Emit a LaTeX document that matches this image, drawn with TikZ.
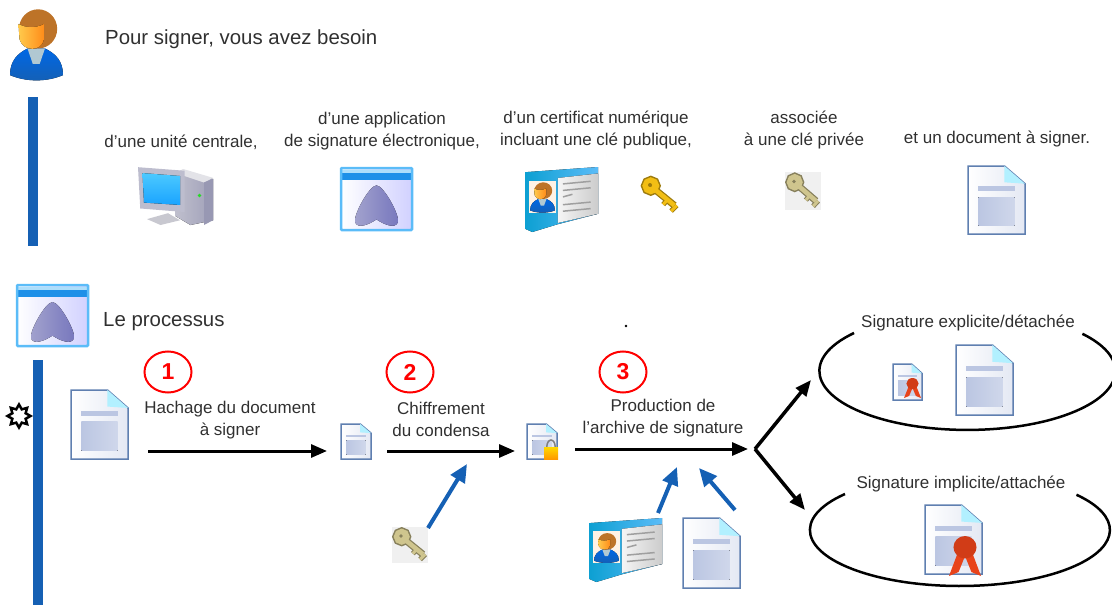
\documentclass[tikz,border=0pt]{standalone}
\usepackage{fontspec}
\setmainfont{Liberation Sans}
\usetikzlibrary{positioning, arrows.meta, shapes.geometric}
\definecolor{barblue}{HTML}{1560B4}
\definecolor{docline}{HTML}{5F7FB0}
\definecolor{docfill}{HTML}{BBC6E2}
\definecolor{appblue}{HTML}{5BBCF8}
\definecolor{apptop}{HTML}{1E90E8}
\definecolor{txtgrey}{HTML}{303030}
\definecolor{goldkey}{HTML}{F2BE14}
\definecolor{palekey}{HTML}{CFC58E}
\definecolor{sealred}{HTML}{E8431A}
\newcommand{\personshape}{
    \fill[top color=blue!55!cyan!90!black,bottom color=barblue](0,.93).. controls (0,.72) and (.15,.62) .. (.33,.55)--(.66,.55).. controls (.85,.62) and (1,.72) .. (1,.93).. controls (.7,1.03) and (.3,1.03) .. (0,.93)--cycle;
    \fill[cyan!30!gray!55](.33,.55)--(.66,.55)--(.56,.77)--(.43,.77)--cycle;
    \fill[HairCol](.53,.27)circle[x radius=.36,y radius=.28];
    \fill[left color=orange!60!yellow!70,right color=orange!90](.16,.2).. controls (.3,.26) and (.5,.26) .. (.64,.2)--(.64,.42).. controls (.6,.6) and (.25,.6) .. (.18,.42)--cycle;
}
\colorlet{HairCol}{brown!70!orange!90!black}
\tikzset{txt/.style={font=\fontsize{17}{22}\selectfont,text=txtgrey,align=center,inner sep=0pt},
         title/.style={font=\fontsize{20.4}{22}\selectfont,text=txtgrey,anchor=west,inner sep=0pt},
         bar/.style={fill=barblue,draw=none},
         step num/.style={draw=red,line width=2pt,ellipse,font=\bfseries\fontsize{23}{23}\selectfont,text=red,minimum width=47pt,minimum height=41pt,inner sep=0pt},
         flow/.style={-{Triangle[length=16pt,width=13pt]},line width=3pt},
         fork/.style={-{Triangle[length=16pt,width=13pt]},line width=3.5pt},
         feed/.style={-{Triangle[length=18pt,width=16pt]},line width=4pt,draw=barblue},
         sig/.style={line width=2.5pt},
         docicon/.pic={
            \draw[docline,line width=1.5pt,left color=white,right color=docfill!40](0,0)--(.64,0)--(1,.26)--(1,1)--(0,1)--cycle;
            \fill[fill=blue!20!cyan!30](.64,0)--(1,.26)--(.64,.24)--cycle;
            \fill[docfill](.18,.3)rectangle(.82,.37);
            \fill[left color=docfill,right color=docfill!70](.18,.46)rectangle(.82,.88);
         },
         sealicon/.pic={
            \fill[sealred](0,1)--(.33,.3)--(.67,.3)--(1,1)--(.7,.9)--(.5,.5)--(.3,.9)--cycle;
            \fill[sealred!90!black](.5,.28)circle[x radius=.36,y radius=.28];
         },
         lockicon/.pic={
            \draw[gray,line width=1.5pt](.2,.4)arc[start angle=180,end angle=0,x radius=.3pt,y radius=.35pt];
            \fill[top color=yellow!70!orange,bottom color=orange!80!yellow](0,.4)rectangle(1,1);
         },
         appicon/.pic={
            \fill[left color=white,right color=blue!18](0,0)rectangle(1,1);
            \fill[apptop](0,.05)rectangle(1,.2);
            \fill[appblue!50](0,.03)rectangle(1,.08);
            \draw[appblue,line width=2.5pt,rounded corners=1pt](0,0)rectangle(1,1);
            \fill[left color=blue!30!gray!55,right color=blue!35!gray!80](.5,.28).. controls (.6,.28) and (.84,.78) .. (.8,.88).. controls (.76,.98) and (.62,.92) .. (.5,.83).. controls (.38,.92) and (.24,.98) .. (.2,.88).. controls (.16,.78) and (.4,.28) .. (.5,.28)--cycle;
         },
         personicon/.pic={\personshape},
         keyicon/.pic={
            \draw[#1!65!black,line width=7pt](.32,.32)--(.86,.76);
            \draw[#1!65!black,line width=5pt](.58,.74)--(.7,.6)(.78,.9)--(.92,.76);
            \draw[#1!65!black,line width=10pt](.27,.27)circle[x radius=.12,y radius=.12];
            \draw[#1,line width=4.5pt](.32,.32)--(.86,.76);
            \draw[#1,line width=3pt](.58,.74)--(.7,.6)(.78,.9)--(.92,.76);
            \draw[#1,line width=7pt](.27,.27)circle[x radius=.12,y radius=.12];
            \fill[#1!65!black](.25,.25)circle[x radius=.05,y radius=.05];
         },
         cardicon/.pic={
            \fill[left color=barblue!60!cyan,right color=appblue](0,.08)--(1,0)--(1,.72)--(.45,.88)--(.1,1)--(0,.95)--cycle;
            \fill[left color=gray!8,right color=gray!40](.45,.17)--(1,.1)--(1,.72)--(.45,.86)--cycle;
            \fill[orange!10!white](.06,.21)rectangle(.42,.7);
            \begin{scope}[shift={(.07,.24)},xscale=.34,yscale=.46]\personshape\end{scope}
            \foreach \yy/\ww in {.26/.9,.36/.9,.46/.65,.58/.9,.68/.9}{\draw[gray!75,line width=1.5pt](.52,\yy)--(\ww,\yy-.04);}
         },
         pcicon/.pic={
            \fill[left color=blue!12!gray!45,right color=blue!15!gray!65](.5,.12)--(1,.22)--(1,.92)--(.7,1)--(.5,.85)--cycle;
            \fill[blue!10!gray!20](.5,.12)--(.6,.05)--(1,.2)--(.88,.28)--cycle;
            \fill[blue!15!gray!70](.88,.28)--(1,.22)--(1,.92)--(.88,1)--cycle;
            \fill[green!70!gray](.82,.5)circle[x radius=.025,y radius=.03];
            \fill[blue!8!gray!40](.12,.9)--(.4,.8)--(.56,.92)--(.3,1)--cycle;
            \fill[blue!15!gray!45](0,.02)--(.62,.08)--(.62,.78)--(.03,.72)--cycle;
            \fill[top color=cyan!70!blue!70,bottom color=cyan!60!blue!90](.06,.12)--(.56,.17)--(.56,.66)--(.08,.62)--cycle;
         },
        }

\begin{document}
\begin{tikzpicture}[x=1pt,y=-1pt]
        \useasboundingbox(0,0)rectangle(1112,605);
        \pic[xscale=53,yscale=70]at(10,10){personicon};
        \node[title](need)at(105,39){Pour signer, vous avez besoin};
        \fill[bar](28,97)rectangle(38,246);

        \node[txt](unit)at(181,142){d'une unité centrale,};
        \node[txt](app)at(382,131){d'une application\\de signature électronique,};
        \node[txt](cert)at(596,130){d'un certificat numérique\\incluant une clé publique,};
        \node[txt](priv)at(804,130){associée\\à une clé privée};
        \node[txt](todoc)at(997,139){et un document à signer.};
        \pic[xscale=75,yscale=59]at(138,166){pcicon};
        \pic[xscale=71,yscale=62]at(341,168){appicon};
        \pic[xscale=73,yscale=65]at(525,167){cardicon};
        \pic[xscale=40,yscale=40]at(640,175){keyicon=goldkey};
        \fill[gray!12](785,172)rectangle(821,210);
        \pic[xscale=36,yscale=38]at(785,172){keyicon=palekey};
        \pic[xscale=57,yscale=68]at(968,166){docicon};

        \pic[xscale=71,yscale=61]at(17,285){appicon};
        \node[title](proc)at(103,322){Le processus};
        \fill[bar](33,360)rectangle(43,605);
        \node[star,star points=8,star point ratio=1.6,draw,line width=2.5pt,fill=white,minimum size=23pt,inner sep=0pt](sun)at(19,416){};
        \node[inner sep=.9pt,fill=black,circle](dot)at(626,326){};

        % etapes
        \pic[xscale=57,yscale=69]at(71,390){docicon};
        \node[step num](one)at(168,372){1};
        \node[txt](hash)at(230,420){Hachage du document\\à signer};
        \coordinate(hashs)at(148,451);
        \coordinate(hashe)at(327,451);
        \draw[flow](hashs)--(hashe);
        \pic[xscale=30,yscale=35]at(341,424){docicon};

        \node[step num](two)at(410,372){2};
        \node[txt](crypt)at(441,419){Chiffrement\\du condensa};
        \coordinate(crypts)at(387,451);
        \coordinate(crypte)at(515,451);
        \draw[flow](crypts)--(crypte);
        \pic[xscale=30,yscale=35]at(527,424){docicon};
        \pic[xscale=14,yscale=20]at(544,439){lockicon};
        \fill[gray!12](392,527)rectangle(428,563);
        \pic[xscale=36,yscale=36]at(392,527){keyicon=palekey};
        \coordinate(keyout)at(428,528);
        \coordinate(keyin)at(467,464);
        \draw[feed](keyout)--(keyin);

        \node[step num](three)at(623,372){3};
        \node[txt](arch)at(663,418){Production de\\l'archive de signature};
        \coordinate(archs)at(575,449);
        \coordinate(arche)at(748,449);
        \draw[flow](archs)--(arche);
        \pic[xscale=73,yscale=64]at(589,518){cardicon};
        \pic[xscale=57,yscale=70]at(683,518){docicon};
        \coordinate(certout)at(658,513);
        \coordinate(certin)at(677,467);
        \coordinate(docout)at(735,510);
        \coordinate(docin)at(699,468);
        \draw[feed](certout)--(certin);
        \draw[feed](docout)--(docin);

        % signatures
        \coordinate(forkk)at(755,449);
        \coordinate(forktop)at(811,380);
        \coordinate(forkbot)at(805,510);
        \draw[fork](forkk)--(forktop);
        \draw[fork](forkk)--(forkbot);

        \node[txt](expl)at(968,323){Signature explicite/détachée};
        \coordinate(expls)at(854,333);
        \draw[sig](expls)arc[start angle=140,end angle=399,x radius=148pt,y radius=59pt];
        \pic[xscale=29,yscale=36]at(893,364){docicon};
        \pic[xscale=17,yscale=20]at(904,378){sealicon};
        \pic[xscale=57,yscale=70]at(956,345){docicon};

        \node[txt](impl)at(961,484){Signature implicite/attachée};
        \coordinate(impls)at(845,494);
        \draw[sig](impls)arc[start angle=140,end angle=399,x radius=150pt,y radius=56pt];
        \pic[xscale=57,yscale=69]at(925,505){docicon};
        \pic[xscale=32,yscale=40]at(949,536){sealicon};
    \end{tikzpicture}
\end{document}
